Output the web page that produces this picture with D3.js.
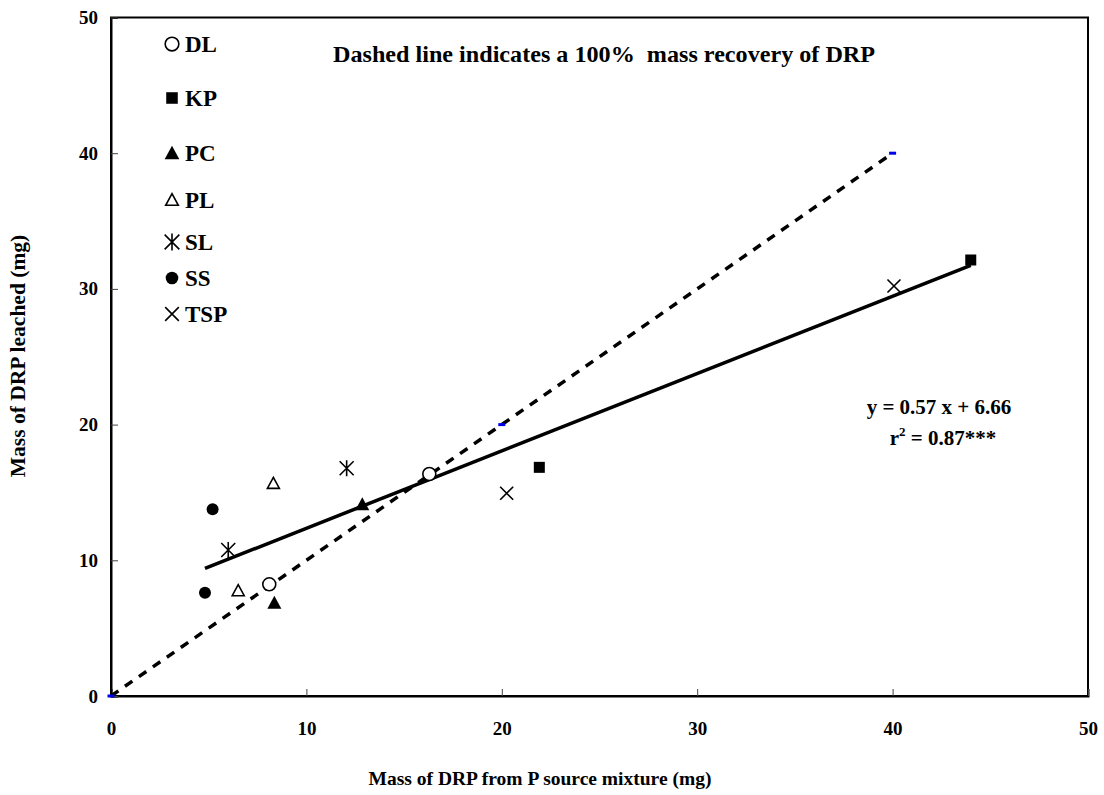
<!DOCTYPE html>
<html><head><meta charset="utf-8">
<script src="https://cdn.jsdelivr.net/npm/d3@7"></script>
<style>
body{margin:0;background:#fff;}
text{font-family:"Liberation Serif","Times New Roman",serif;font-weight:bold;fill:#000;}
</style></head>
<body><svg id="c" width="1104" height="795"></svg>
<script>
// ---- data ----
const seriesNames = ["DL","KP","PC","PL","SL","SS","TSP"];
const dlX = [8.10, 16.29], dlY = [8.23, 16.36];
const kpX = [21.92, 44.0], kpY = [16.85, 32.13];
const pcX = [8.36, 12.86], pcY = [6.88, 14.13];
const plX = [6.51, 8.31], plY = [7.76, 15.67];
const slX = [6.00, 12.06], slY = [10.76, 16.78];
const ssX = [4.81, 5.20], ssY = [7.61, 13.76];
const tspX = [20.25, 40.07], tspY = [14.94, 30.21];
const oneToOneX = [0, 20, 40], oneToOneY = [0, 20, 40];
const slope = 0.57, intercept = 6.66;
const trendX = [4.81, 44.0];
const xTicks = [0,10,20,30,40,50];
const yTicks = [0,10,20,30,40,50];

const svg = d3.select("#c");
const L=111, R=1088, T=17.5, B=696;
const x = d3.scaleLinear().domain([0,50]).range([L,R]);
const y = d3.scaleLinear().domain([0,50]).range([B,T]);

// frame
svg.append("rect").attr("x",L).attr("y",T).attr("width",R-L).attr("height",B-T)
  .attr("fill","none").attr("stroke","#000").attr("stroke-width",2);

// axes (inward ticks)
const xa = svg.append("g").attr("transform",`translate(0,${B})`)
  .call(d3.axisBottom(x).tickValues(xTicks).tickSize(-7).tickPadding(26).tickFormat(d3.format("d")));
const ya = svg.append("g").attr("transform",`translate(${L},0)`)
  .call(d3.axisLeft(y).tickValues(yTicks).tickSize(-7).tickPadding(13).tickFormat(d3.format("d")));
[xa,ya].forEach(g=>{
  g.select(".domain").attr("stroke","#000").attr("stroke-width",2);
  g.selectAll(".tick line").attr("stroke","#444").attr("stroke-width",1);
  g.selectAll(".tick text").attr("font-size",19).attr("font-family","Liberation Serif").attr("font-weight","bold").attr("fill","#000");
});

// 1:1 dashed line
const line = d3.line().x(d=>x(d[0])).y(d=>y(d[1]));
const oo = oneToOneX.map((v,i)=>[v,oneToOneY[i]]);
svg.append("path").attr("d",line(oo)).attr("fill","none").attr("stroke","#000")
  .attr("stroke-width",3.5).attr("stroke-dasharray","9,8");
svg.selectAll(".bm").data(oo).enter().append("rect")
  .attr("x",d=>x(d[0])-3.5).attr("y",d=>y(d[1])-1.5).attr("width",7).attr("height",3).attr("fill","#0000ee");

// regression line
svg.append("path").attr("d",line(trendX.map(v=>[v,slope*v+intercept])))
  .attr("fill","none").attr("stroke","#000").attr("stroke-width",3.5);

// markers
function marker(g,type,s){
  s = s||1;
  const sw=1.6;
  switch(type){
    case "DL": g.append("circle").attr("r",6.5*s).attr("fill","#fff").attr("stroke","#000").attr("stroke-width",sw); break;
    case "KP": g.append("rect").attr("x",-5.5*s).attr("y",-5.5*s).attr("width",11*s).attr("height",11*s).attr("fill","#000"); break;
    case "PC": g.append("path").attr("d",`M0,${-7*s}L${7*s},${6*s}L${-7*s},${6*s}Z`).attr("fill","#000"); break;
    case "PL": g.append("path").attr("d",`M0,${-6*s}L${6*s},${5*s}L${-6*s},${5*s}Z`).attr("fill","#fff").attr("stroke","#000").attr("stroke-width",sw); break;
    case "SL": g.append("path").attr("d",`M${-7*s},${-7*s}L${7*s},${7*s}M${-7*s},${7*s}L${7*s},${-7*s}M0,${-8*s}L0,${8*s}`).attr("stroke","#000").attr("stroke-width",sw); break;
    case "SS": g.append("circle").attr("r",6*s).attr("fill","#000"); break;
    case "TSP": g.append("path").attr("d",`M${-6.5*s},${-6.5*s}L${6.5*s},${6.5*s}M${-6.5*s},${6.5*s}L${6.5*s},${-6.5*s}`).attr("stroke","#000").attr("stroke-width",sw); break;
  }
}
const seriesData = {DL:[dlX,dlY],KP:[kpX,kpY],PC:[pcX,pcY],PL:[plX,plY],SL:[slX,slY],SS:[ssX,ssY],TSP:[tspX,tspY]};
seriesNames.forEach(n=>{
  const [xs,ys]=seriesData[n];
  xs.forEach((v,i)=>{
    marker(svg.append("g").attr("transform",`translate(${x(v)},${y(ys[i])})`),n);
  });
});

// legend
const legendRowY = [44, 98, 153, 200, 242, 278, 314];
seriesNames.forEach((n,i)=>{
  const ly = legendRowY[i];
  marker(svg.append("g").attr("transform",`translate(172,${ly})`),n,1.05);
  svg.append("text").attr("x",185).attr("y",ly+8).attr("font-size",23).text(n);
});

// annotations
svg.append("text").attr("x",604).attr("y",62).attr("text-anchor","middle").attr("font-size",23)
  .attr("textLength",542).attr("lengthAdjust","spacingAndGlyphs")
  .attr("xml:space","preserve").style("white-space","pre").text("Dashed line indicates a 100%  mass recovery of DRP");
svg.append("text").attr("x",939).attr("y",414).attr("text-anchor","middle").attr("font-size",21).text("y = 0.57 x + 6.66");
const r2 = svg.append("text").attr("x",943).attr("y",445).attr("text-anchor","middle").attr("font-size",21);
r2.append("tspan").text("r");
r2.append("tspan").attr("font-size",13).attr("dy",-9).text("2");
r2.append("tspan").attr("dy",9).text(" = 0.87***");

// axis titles
svg.append("text").attr("x",540).attr("y",785).attr("text-anchor","middle").attr("font-size",19.5)
  .text("Mass of DRP from P source mixture (mg)");
svg.append("text").attr("transform",`translate(25,356) rotate(-90)`).attr("text-anchor","middle").attr("font-size",21.5)
  .text("Mass of DRP leached (mg)");
</script></body></html>
